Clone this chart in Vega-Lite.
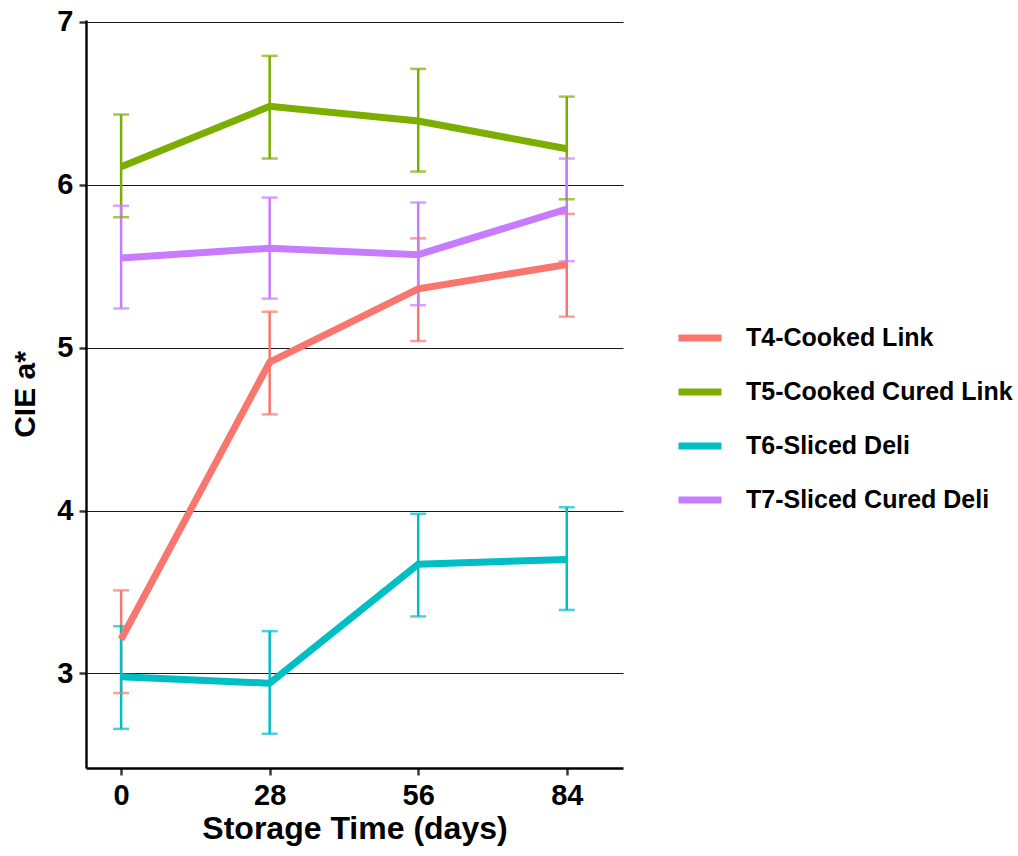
{
  "$schema": "https://vega.github.io/schema/vega-lite/v6.json",
  "width": 537,
  "height": 748,
  "autosize": {"type": "none"},
  "padding": {"left": 86, "top": 20, "right": 395, "bottom": 88},
  "background": "white",
  "config": {
    "view": {"stroke": null},
    "font": "Liberation Sans"
  },
  "data": {
    "values": [
      {"group": "T4-Cooked Link", "day": 0, "mean": 3.21, "lo": 2.88, "hi": 3.51},
      {"group": "T4-Cooked Link", "day": 28, "mean": 4.91, "lo": 4.59, "hi": 5.22},
      {"group": "T4-Cooked Link", "day": 56, "mean": 5.36, "lo": 5.04, "hi": 5.67},
      {"group": "T4-Cooked Link", "day": 84, "mean": 5.51, "lo": 5.19, "hi": 5.82},
      {"group": "T5-Cooked Cured Link", "day": 0, "mean": 6.11, "lo": 5.80, "hi": 6.43},
      {"group": "T5-Cooked Cured Link", "day": 28, "mean": 6.48, "lo": 6.16, "hi": 6.79},
      {"group": "T5-Cooked Cured Link", "day": 56, "mean": 6.39, "lo": 6.08, "hi": 6.71},
      {"group": "T5-Cooked Cured Link", "day": 84, "mean": 6.22, "lo": 5.91, "hi": 6.54},
      {"group": "T6-Sliced Deli", "day": 0, "mean": 2.98, "lo": 2.66, "hi": 3.29},
      {"group": "T6-Sliced Deli", "day": 28, "mean": 2.94, "lo": 2.63, "hi": 3.26},
      {"group": "T6-Sliced Deli", "day": 56, "mean": 3.67, "lo": 3.35, "hi": 3.98},
      {"group": "T6-Sliced Deli", "day": 84, "mean": 3.70, "lo": 3.39, "hi": 4.02},
      {"group": "T7-Sliced Cured Deli", "day": 0, "mean": 5.55, "lo": 5.24, "hi": 5.87},
      {"group": "T7-Sliced Cured Deli", "day": 28, "mean": 5.61, "lo": 5.30, "hi": 5.92},
      {"group": "T7-Sliced Cured Deli", "day": 56, "mean": 5.57, "lo": 5.26, "hi": 5.89},
      {"group": "T7-Sliced Cured Deli", "day": 84, "mean": 5.85, "lo": 5.53, "hi": 6.16}
    ]
  },
  "encoding": {
    "x": {
      "field": "day", "type": "quantitative",
      "scale": {"domain": [-6.62, 94.6], "nice": false, "zero": false},
      "axis": {
        "values": [0, 28, 56, 84], "format": "d", "grid": false, "title": "Storage Time (days)",
        "labelFont": "Liberation Sans", "labelFontWeight": "bold", "labelFontSize": 29, "labelColor": "black", "labelPadding": 6,
        "titleFont": "Liberation Sans", "titleFontWeight": "bold", "titleFontSize": 32, "titleColor": "black", "titlePadding": 3,
        "domainColor": "black", "domainWidth": 2.4, "tickColor": "#333333", "tickWidth": 2.4, "tickSize": 7
      }
    },
    "color": {
      "field": "group", "type": "nominal",
      "scale": {"domain": ["T4-Cooked Link", "T5-Cooked Cured Link", "T6-Sliced Deli", "T7-Sliced Cured Deli"],
                "range": ["#F8766D", "#7CAE00", "#00BFC4", "#C77CFF"]},
      "legend": {
        "title": null,
        "orient": "none",
        "legendX": 589,
        "legendY": 293,
        "symbolType": "stroke",
        "symbolStrokeWidth": 7,
        "symbolSize": 1849,
        "symbolOpacity": 1,
        "labelFont": "Liberation Sans",
        "labelFontWeight": "bold",
        "labelFontSize": 25,
        "labelColor": "black",
        "labelOffset": 21,
        "rowPadding": 15,
        "labelLimit": 400
      }
    }
  },
  "layer": [
    {
      "mark": {"type": "rule", "strokeWidth": 2.5},
      "encoding": {
        "y": {
          "field": "lo", "type": "quantitative",
          "scale": {"domain": [2.42, 7.01], "nice": false, "zero": false},
          "axis": {
            "values": [3, 4, 5, 6, 7], "format": "d", "grid": true, "gridColor": "black", "gridWidth": 0.9, "title": "CIE a*",
            "labelFont": "Liberation Sans", "labelFontWeight": "bold", "labelFontSize": 29, "labelColor": "black", "labelPadding": 6,
            "titleFont": "Liberation Sans", "titleFontWeight": "bold", "titleFontSize": 30, "titleColor": "black", "titlePadding": 16,
            "domainColor": "black", "domainWidth": 2.4, "tickColor": "#333333", "tickWidth": 2.4, "tickSize": 7
          }
        },
        "y2": {"field": "hi"}
      }
    },
    {
      "mark": {"type": "tick", "orient": "horizontal", "size": 16, "thickness": 2.5},
      "encoding": {
        "y": {"field": "lo", "type": "quantitative"}
      }
    },
    {
      "mark": {"type": "tick", "orient": "horizontal", "size": 16, "thickness": 2.5},
      "encoding": {
        "y": {"field": "hi", "type": "quantitative"}
      }
    },
    {
      "mark": {"type": "line", "strokeWidth": 7, "strokeCap": "butt"},
      "encoding": {
        "y": {"field": "mean", "type": "quantitative"}
      }
    }
  ]
}
